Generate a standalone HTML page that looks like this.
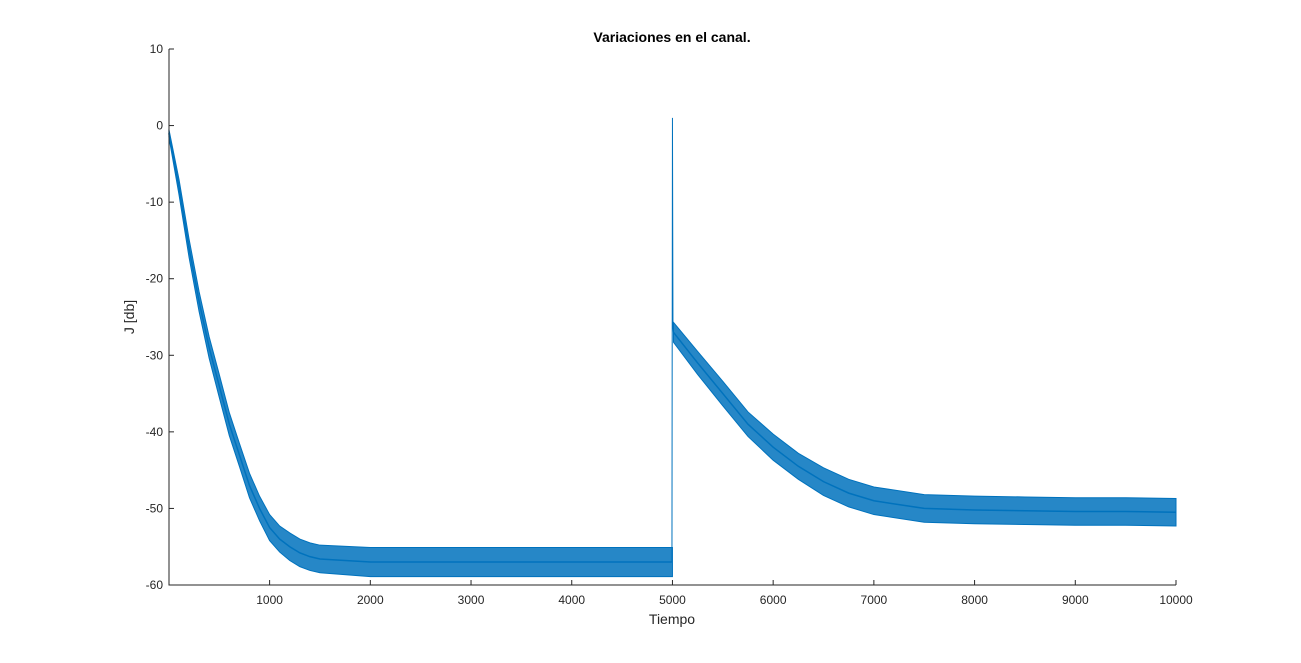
<!DOCTYPE html>
<html><head><meta charset="utf-8"><style>
body{margin:0;background:#fff;}
svg text{font-family:"Liberation Sans",sans-serif;}
</style></head><body>
<svg id="chart" width="1301" height="658" viewBox="0 0 1301 658" xmlns="http://www.w3.org/2000/svg">
<rect width="1301" height="658" fill="#fff"/>
<g id="plot"></g>
<g id="axes"></g>
<text x="672" y="42" text-anchor="middle" font-size="14" font-weight="bold">Variaciones en el canal.</text>
<text x="672" y="624" text-anchor="middle" font-size="14" fill="#262626">Tiempo</text>
<text transform="translate(134,317) rotate(-90)" text-anchor="middle" font-size="14" fill="#262626">J [db]</text>
</svg>
<script>
const xTicks=[1000,2000,3000,4000,5000,6000,7000,8000,9000,10000];
const yTicks=[10,0,-10,-20,-30,-40,-50,-60];
const times1=[0,100,200,300,400,500,600,700,800,900,1000,1100,1200,1300,1400,1500,2000,2500,3000,3500,4000,4500,5000];
const mean1=[-1,-8,-16,-23,-29,-34,-39,-43,-47,-50,-52.5,-54,-55,-55.8,-56.3,-56.6,-57,-57,-57,-57,-57,-57,-57];
const noise1=[0.5,1,1.2,1.3,1.4,1.5,1.5,1.5,1.6,1.6,1.7,1.7,1.8,1.8,1.8,1.8,1.9,1.9,1.9,1.9,1.9,1.9,1.9];
const times2=[5010,5250,5500,5750,6000,6250,6500,6750,7000,7500,8000,8500,9000,9500,10000];
const mean2=[-27,-31,-35,-39,-42,-44.5,-46.5,-48,-49,-50,-50.2,-50.3,-50.4,-50.4,-50.5];
const noise2=[1.3,1.5,1.6,1.6,1.7,1.7,1.8,1.8,1.8,1.8,1.8,1.8,1.8,1.8,1.8];
const spikeT=[4995,5000,5005,5010];
const spikeV=[-57,1,-26,-27];
const X0=169,X1=1176,Y0=49,Y1=585;
const sx=t=>X0+(t-1)/(10000-1)*(X1-X0);
const sy=v=>Y0+(10-v)/70*(Y1-Y0);
const NS="http://www.w3.org/2000/svg";
const plot=document.getElementById('plot'),axes=document.getElementById('axes');
function mk(tag,attrs,parent){const e=document.createElementNS(NS,tag);for(const k in attrs)e.setAttribute(k,attrs[k]);parent.appendChild(e);return e;}
function band(ts,ms,ns,name){
  let up=ts.map((t,i)=>sx(t)+','+sy(ms[i]+ns[i]));
  let lo=ts.map((t,i)=>sx(t)+','+sy(ms[i]-ns[i])).reverse();
  const p=mk('polygon',{points:up.concat(lo).join(' '),fill:'#0072BD','fill-opacity':'0.85',stroke:'#0072BD','stroke-width':'1'},plot);
  
  
  const l=mk('polyline',{points:ts.map((t,i)=>sx(t)+','+sy(ms[i])).join(' '),fill:'none',stroke:'#0072BD','stroke-width':'1.5'},plot);
  
  
}
band(times1,mean1,noise1,'segment-1');
band(times2,mean2,noise2,'segment-2');
const sp=mk('polyline',{points:spikeT.map((t,i)=>sx(t)+','+sy(spikeV[i])).join(' '),fill:'none',stroke:'#0072BD','stroke-width':'1'},plot);


const ax=mk('path',{d:`M${X0},${Y0}V${Y1}H${X1}`,fill:'none',stroke:'#262626','stroke-width':'1'},axes);


xTicks.forEach(t=>{const x=sx(t);
  const tk=mk('line',{x1:x,x2:x,y1:Y1,y2:Y1-5,stroke:'#262626'},axes);
  
  
  const tx=mk('text',{x:x,y:Y1+19,'text-anchor':'middle','font-size':'12',fill:'#262626'},axes);tx.textContent=t;
  
  
});
yTicks.forEach(v=>{const y=sy(v);
  const tk=mk('line',{x1:X0,x2:X0+5,y1:y,y2:y,stroke:'#262626'},axes);
  
  
  const tx=mk('text',{x:X0-6,y:y+4,'text-anchor':'end','font-size':'12',fill:'#262626'},axes);tx.textContent=v;
  
  
});
</script>
</body></html>
